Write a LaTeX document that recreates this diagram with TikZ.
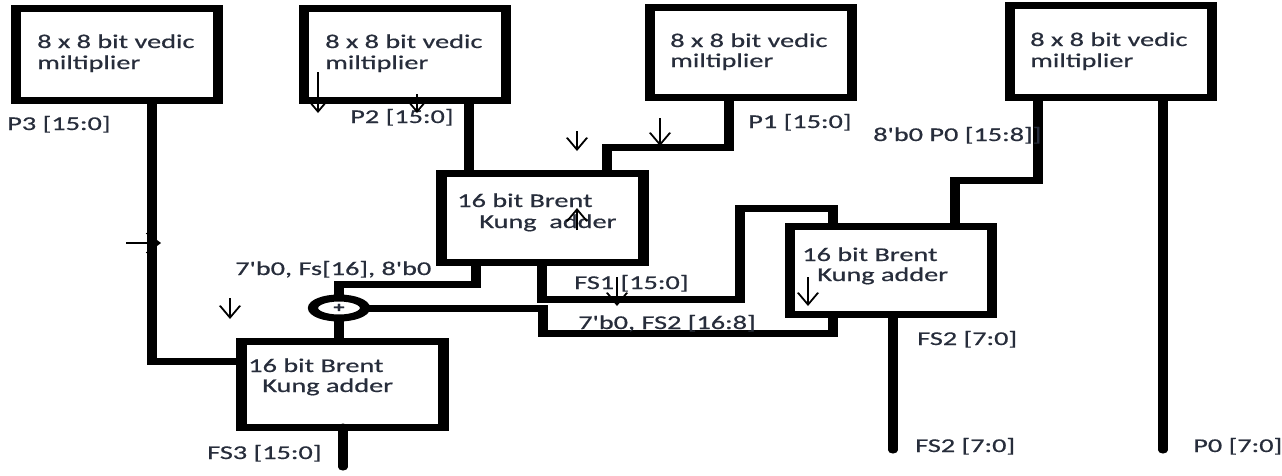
\documentclass[tikz,border=0pt]{standalone}
\usepackage{fontspec}
\newfontfamily\lblfont{Carlito}[FakeBold=0.5]
\usetikzlibrary{arrows.meta,shapes.geometric}
\definecolor{ink}{HTML}{272D3B}
\tikzset{
  block/.style={draw=black, line width=7pt, inner sep=0pt, outer sep=0pt, minimum width=139.3pt},
  wire/.style={draw=black, line width=7pt, line join=miter},
  wireend/.style={wire, line cap=round},
  lbl/.style={font=\lblfont\fontsize{19.5}{24}\selectfont, text=ink, inner sep=0pt, anchor=base west},
  pointer/.style={draw=black, line width=1.4pt, -{Straight Barb[length=12pt,width=14pt]}},
  hpointer/.style={draw=black, line width=1.4pt, -{Straight Barb[length=9pt,width=20pt]}},
  summer/.style={draw=black, ellipse, line width=7pt, inner sep=0pt, outer sep=0pt,
    minimum width=35.9pt, minimum height=20pt,
    font=\lblfont\bfseries\fontsize{15}{15}\selectfont, text=ink}
}
\begin{document}
\begin{tikzpicture}
\useasboundingbox (0pt,0pt) rectangle (1282pt,-475pt);
\begin{scope}[transform canvas={xscale=1.45}, x=0.689655pt, y=-1pt]
  % multipliers
  \node[block, minimum height=91.5pt] (m3) at (116.75,54.25) {};
  \node[block, minimum height=91.5pt] (m2) at (405,54.25) {};
  \node[block, minimum height=90pt]   (m1) at (751,52.5) {};
  \node[block, minimum height=92pt]   (m0) at (1110.75,51.5) {};
  % Brent Kung adders
  \node[block, minimum height=89pt] (bk1) at (542.5,217.5) {};
  \node[block, minimum height=88pt] (bk2) at (891,270.5) {};
  \node[block, minimum height=86pt] (bk3) at (342.5,384) {};
  % carry adder
  \node[summer] (sum) at (339,308) {+};

  % free ends of the outputs
  \coordinate (fs3end) at (343,467);
  \coordinate (fs2end) at (893,450);
  \coordinate (p0end)  at (1163,450);

  % wiring
  \draw[wire] (152,0 |- m3.south) -- (152,361) -- (bk3.west |- 0,361);
  \draw[wire] (469,0 |- m2.south) -- (469,0 |- bk1.north);
  \draw[wire] (729,0 |- m1.south) -- (729,147.5) -- (607,147.5) -- (607,0 |- bk1.north);
  \draw[wire] (1038,0 |- m0.south) -- (1038,180) -- (955,180) -- (955,0 |- bk2.north);
  \draw[wireend] (1163,0 |- m0.south) -- (p0end);
  \draw[wire] (542,0 |- bk1.south) -- (542,299) -- (740,299) -- (740,208) -- (833,208) -- (833,0 |- bk2.north);
  \draw[wire] (476,0 |- bk1.south) -- (476,284) -- (339,284) -- (sum.north);
  \draw[wire] (sum.east) -- (543,0 |- sum.east) -- (543,333) -- (833,333) -- (833,0 |- bk2.south);
  \draw[wire] (sum.south) -- (sum.south |- bk3.north);
  \draw[wireend] (343,0 |- bk3.south) -- (fs3end);
  \draw[wireend] (893,0 |- bk2.south) -- (fs2end);

  % texts
  \node[lbl] (m3a) at (37,48) {8 x 8 bit vedic};
  \node[lbl] (m3b) at (37,69) {miltiplier};
  \node[lbl] (m2a) at (325,48) {8 x 8 bit vedic};
  \node[lbl] (m2b) at (325,69) {miltiplier};
  \node[lbl] (m1a) at (670,47) {8 x 8 bit vedic};
  \node[lbl] (m1b) at (670,67) {miltiplier};
  \node[lbl] (m0a) at (1030,46) {8 x 8 bit vedic};
  \node[lbl] (m0b) at (1030,67) {miltiplier};
  \node[lbl] (lp3) at (7,130) {P3 [15:0]};
  \node[lbl] (lp2) at (350,123) {P2 [15:0]};
  \node[lbl] (lp1) at (748,128) {P1 [15:0]};
  \node[lbl] (lp0h) at (873,141) {8'b0 P0 [15:8]]};
  \node[lbl] (bk1a) at (457,207) {16 bit Brent};
  \node[lbl] (bk1b) at (479,228) {Kung~~adder};
  \node[lbl] (lcarry) at (235,275) {7'b0, Fs[16], 8'b0};
  \node[lbl] (lfs1) at (574,289) {FS1 [15:0]};
  \node[lbl] (lfs2h) at (578,329) {7'b0, FS2 [16:8]};
  \node[lbl] (bk2a) at (802,261) {16 bit Brent};
  \node[lbl] (bk2b) at (817,281) {Kung adder};
  \node[lbl] (lfs2a) at (917,345) {FS2 [7:0]};
  \node[lbl] (bk3a) at (248,372) {16 bit Brent};
  \node[lbl] (bk3b) at (262,392) {Kung adder};
  \node[lbl] (lfs3) at (207,459) {FS3 [15:0]};
  \node[lbl] (lfs2b) at (915,452) {FS2 [7:0]};
  \node[lbl] (lp0l) at (1193,452) {P0 [7:0]};

  % hand-drawn direction marks
  \draw[pointer] (318,72) -- (318,113);
  \draw[pointer] (417,94) -- (417,113);
  \draw[pointer] (577,131) -- (577,151);
  \draw[pointer] (660,118) -- (660,146);
  \draw[pointer] (577,230) -- (577,208);
  \draw[pointer] (617,277) -- (617,306);
  \draw[pointer] (808,277) -- (808,306);
  \draw[pointer] (230,298) -- (230,319);
  \draw[hpointer] (126,243) -- (161,243);
\end{scope}
\end{tikzpicture}
\end{document}
